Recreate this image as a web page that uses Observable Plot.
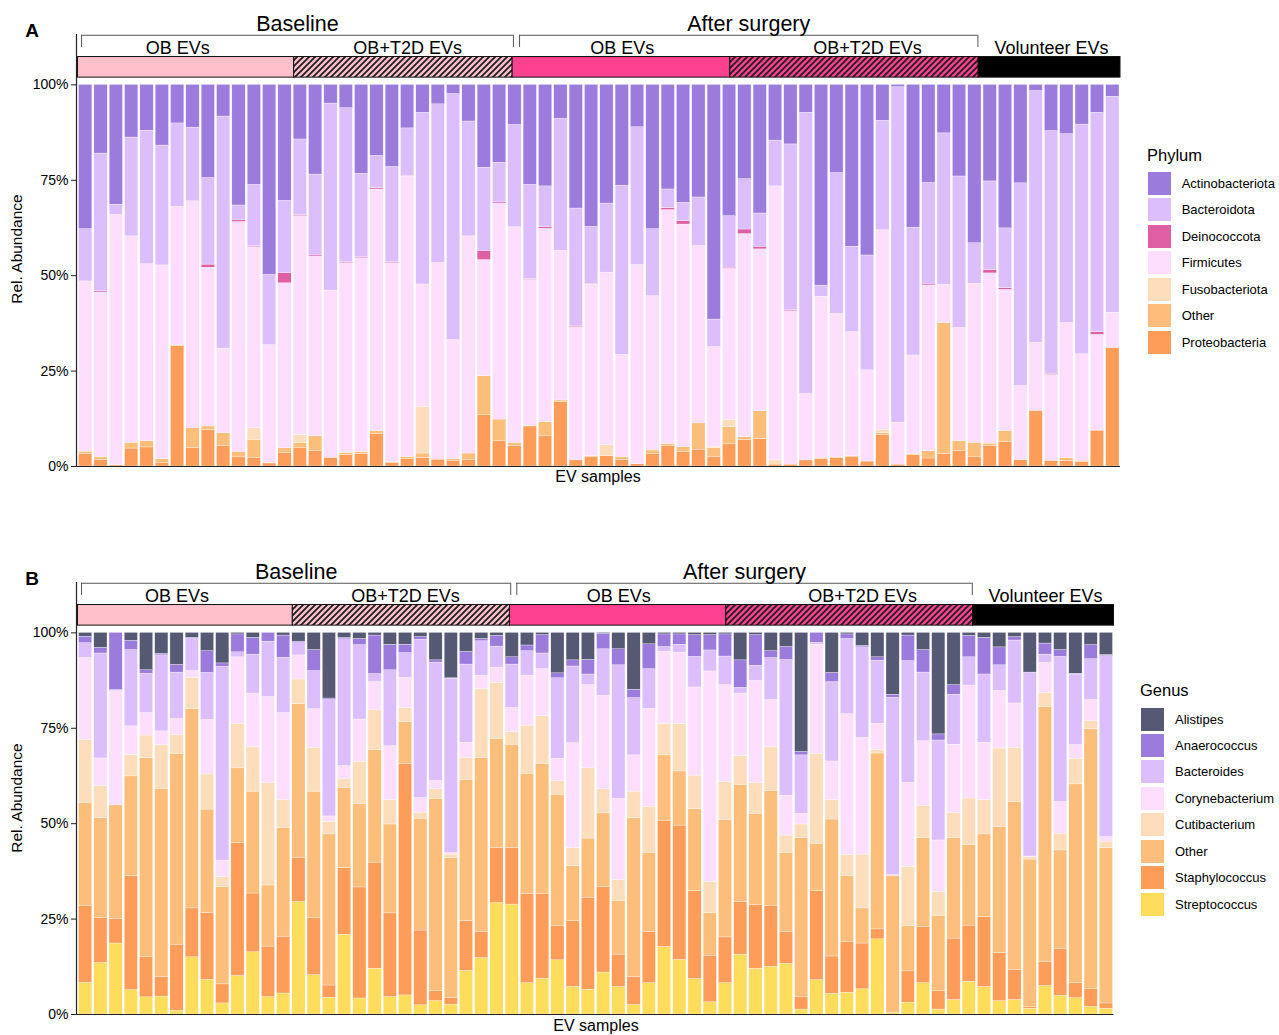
<!DOCTYPE html>
<html><head><meta charset="utf-8">
<script src="https://cdn.jsdelivr.net/npm/d3@7"></script>
<script src="https://cdn.jsdelivr.net/npm/@observablehq/plot@0.6"></script>
<style>
body{margin:0;background:#fff;font-family:"Liberation Sans",Arial,sans-serif;color:#000;}
#root{position:relative;width:1279px;height:1035px;overflow:hidden;}
.abs{position:absolute;white-space:nowrap;line-height:1;}
.c{transform:translate(-50%,-50%);}
.sw{position:absolute;width:23px;height:23px;}
</style></head><body><div id="root"></div>
<script>
// ---------- DATA ----------
const nSamples = 68;

// Panel A: phylum relative abundance (%), one value per EV sample
const proteobacteria = [3.3,1.7,0.3,4.7,5.0,1.0,31.5,4.8,9.6,5.3, 2.4,2.3,0.8,3.5,4.8,4.0,2.3,3.0,3.3,8.5, 0.9,1.9,2.2,1.8,1.4,1.7,13.5,6.6,5.4,10.5, 7.9,16.9,1.6,2.4,2.7,1.7,0.6,3.2,5.3,3.8, 4.4,2.4,5.8,7.0,7.2,0.5,0.5,1.6,1.9,2.2, 2.4,1.3,8.3,0.5,3.0,2.1,3.2,4.0,2.4,5.3, 6.4,1.7,14.6,1.5,1.4,1.2,9.4,31.1];
const otherPhylum = [0.6,0.7,0,1.5,1.6,0.9,0.2,5.3,0.9,3.4, 1.4,4.7,0.2,1.3,1.3,3.9,0,0.5,0.5,0.8, 0.2,0.6,1.2,0,0.5,1.7,10.2,5.7,0.8,0.2, 3.7,0.4,0,0.3,0,0.7,0,1.0,0.6,1.3, 6.9,2.4,4.5,0.7,7.3,0,0,0,0.2,0.2, 0.3,0,0.4,0,0.3,1.9,34.4,2.6,3.8,0.7, 2.9,0,0,0,0.8,0.3,0,0];
const fusobacteriota = [0,0,0,0,0,0,0,0,0,0, 0,3.0,0,0,2.2,0,0,0.3,0,0, 0,0,12.2,0,0,0,0,0,0,0, 0,0,0,0,2.9,0,0,0,0,0, 0,0.4,1.9,0,0,1.1,0,0,0,0, 0,0,0.9,0,0,0,0,0,0,0, 0,0,0,0,0,0,0,0];
const firmicutes = [44.6,43.2,65.6,54.1,46.4,50.8,36.3,59.4,41.6,22.2, 60.3,47.5,30.8,43.2,57.3,47.1,43.8,49.5,50.8,63.3, 52.2,73.5,32.1,51.5,31.2,56.9,30.4,56.6,56.5,38.2, 50.7,39.2,34.9,45.0,45.2,26.9,52.2,40.4,61.3,58.3, 46.5,26.1,39.6,53.2,42.4,71.8,40.2,17.4,42.4,37.6, 32.5,23.9,52.3,11.0,25.8,43.4,10.0,29.7,41.7,44.6, 37.0,19.4,17.8,22.5,35.4,27.9,25.1,9.2];
const deinococcota = [0,0.3,0,0,0,0,0,0,0.8,0, 0.5,0.2,0,2.7,0.2,0.3,0,0.2,0.2,0.4, 0.2,0.2,0,0,0,0,2.4,0.3,0,0.2, 0.4,0,0.2,0.2,0,0,0,0,0.5,0.9, 0,0,0.3,1.2,0.7,0,0.3,0,0,0, 0,0,0,0,0,0.3,0,0,0,0.9, 0.4,0,0,0.3,0,0,0.7,0];
const bacteroidota = [13.7,36.1,2.7,25.9,35.0,31.4,21.9,19.3,22.7,60.8, 3.8,16.1,18.4,18.9,19.9,21.2,49.0,40.4,21.9,8.4, 25.0,12.4,45.0,41.6,64.5,30.1,21.8,10.4,26.8,24.7, 10.7,34.6,30.9,14.9,18.1,44.3,36.1,17.6,4.9,4.8, 12.7,7.2,13.5,13.2,8.7,12.0,43.4,73.7,2.9,36.9, 22.4,30.1,28.7,87.9,33.5,26.6,39.7,39.7,10.6,23.2, 15.7,53.1,66.0,63.6,49.5,60.2,57.5,56.6];
const actinobacteriota = [37.8,18.0,31.4,13.8,12.0,15.9,10.1,11.2,24.4,8.3, 31.6,26.2,49.8,30.4,14.3,23.5,4.9,6.1,23.3,18.6, 21.5,11.4,7.3,5.1,2.4,9.6,21.7,20.4,10.5,26.2, 26.6,8.9,32.4,37.2,31.1,26.4,11.1,37.8,27.4,30.9, 29.5,61.5,34.4,24.7,33.7,14.6,15.6,7.3,52.6,23.1, 42.4,44.7,9.4,0.6,37.4,25.7,12.7,24.0,41.5,25.3, 37.6,25.8,1.6,12.1,12.9,10.4,7.3,3.1];

// Panel B: genus relative abundance (%)
const streptococcus = [8.3,13.5,18.6,6.4,4.5,4.7,1.0,15.0,9.1,2.9, 10.1,16.3,4.6,5.5,29.5,10.3,4.4,20.9,4.2,12.0, 4.6,5.0,2.4,3.5,2.6,11.4,14.8,29.2,28.8,8.2, 9.4,14.2,7.2,6.5,11.0,7.2,2.5,8.2,17.7,14.3, 9.3,3.2,8.2,15.7,12.0,12.5,13.3,1.3,9.0,5.4, 5.7,6.6,19.7,0.4,3.1,8.2,1.3,3.8,8.6,7.2, 3.5,3.8,1.5,7.5,4.9,4.3,2.0,1.5];
const staphylococcus = [20.2,11.8,6.5,29.9,10.6,5.2,17.3,12.8,17.5,5.0, 34.9,15.4,13.2,14.9,11.5,14.9,3.2,17.5,29.1,27.8, 21.9,60.6,19.6,2.6,1.8,13.1,6.9,14.5,14.9,23.3, 22.1,8.9,17.3,24.1,22.4,8.5,7.4,13.5,33.1,35.2, 23.0,12.2,12.0,13.8,16.7,16.0,8.4,3.2,23.4,9.8, 13.2,12.0,2.6,0,8.2,14.8,4.8,16.1,14.7,18.4, 12.6,7.8,0.5,6.3,12.3,4.0,4.6,1.4];
const otherGenus = [27.0,26.2,29.7,26.1,52.1,49.2,49.9,52.2,27.1,25.5, 19.5,26.7,16.0,28.5,40.3,33.2,39.6,21.0,21.9,29.5, 23.3,11.1,29.3,50.4,36.6,37.0,45.5,28.5,27.0,31.6, 34.1,34.5,14.4,15.5,19.3,14.1,41.5,20.7,17.1,14.2, 21.5,11.2,30.8,30.7,23.9,30.1,20.7,41.7,12.3,35.9, 17.4,9.2,46.1,35.8,11.8,23.3,19.8,26.4,21.1,21.6, 33.0,44.1,38.6,66.8,25.8,52.0,68.2,40.7];
const cutibacterium = [16.5,8.4,0,5.6,5.9,11.5,5.0,8.2,9.2,2.6, 11.7,11.6,26.8,7.4,6.5,11.5,3.3,2.4,11.0,10.4, 6.4,3.6,1.6,2.5,0.9,5.8,18.1,14.7,3.4,12.6, 12.6,3.5,4.7,18.4,6.3,5.4,7.0,12.0,8.3,12.4, 8.8,8.2,9.9,7.5,8.1,11.4,4.5,3.6,23.6,5.1, 5.5,14.1,0.9,0.3,15.6,8.4,6.2,6.5,12.2,9.0, 20.6,14.2,0.6,3.6,4.4,6.7,2.1,1.7];
const corynebacterium = [21.4,7.2,29.9,7.5,5.9,3.6,4.2,1.8,14.3,4.3, 17.4,14.1,22.6,22.7,6.3,10.1,1.4,3.3,11.1,7.4, 14.1,7.9,3.8,2.2,0.4,3.9,3.5,4.0,6.2,13.1, 12.3,5.9,27.5,21.8,24.5,21.3,9.5,25.7,18.9,18.7, 23.1,55.1,25.4,16.4,26.7,12.4,10.4,2.8,28.6,10.1, 36.9,30.6,6.9,0,22.0,16.9,13.5,17.9,29.6,15.0, 15.1,11.6,0.2,7.9,8.3,3.6,5.5,1.2];
const bacteroides = [3.9,27.5,0.3,20.0,10.3,19.9,12.2,8.4,12.3,50.8, 1.3,10.2,14.5,14.5,3.2,10.0,30.5,33.2,19.5,2.1, 19.9,6.5,41.5,31.0,45.7,20.5,9.0,5.5,11.4,6.4, 4.1,21.1,20.1,2.8,12.2,35.0,15.0,10.4,1.2,2.1, 8.0,5.5,7.5,1.5,4.0,11.0,35.6,15.3,0.5,20.8, 19.7,23.7,16.5,46.5,31.9,18.0,26.2,13.1,7.4,17.9, 6.7,16.5,48.2,2.2,38.0,18.5,10.7,47.4];
const anaerococcus = [1.7,1.5,15.0,2.4,0.9,0.4,2.0,0.3,5.7,0.9, 4.7,4.4,2.3,5.8,0.4,5.5,0.4,0.4,1.6,10.1, 6.7,2.2,0.7,0.6,0.1,3.3,0.6,2.8,1.9,1.5, 4.8,1.3,1.6,3.8,4.1,4.2,2.2,6.5,3.3,2.7, 5.7,4.0,5.8,7.2,8.0,1.8,3.4,0.9,2.6,2.4, 1.2,0.4,0.9,0.8,6.7,5.9,1.6,2.5,5.6,9.6, 4.7,0.9,0,2.9,1.8,0.2,3.7,0.3];
const alistipes = [1.0,3.9,0,2.1,9.8,5.5,8.4,1.3,4.8,8.0, 0.4,1.3,0,0.7,2.3,4.5,17.2,1.3,1.6,0.7, 3.1,3.1,1.1,7.2,11.9,5.0,1.6,0.8,6.4,3.3, 0.6,10.6,7.2,7.1,0.2,4.3,14.9,3.0,0.4,0.4, 0.6,0.6,0.4,7.2,0.6,4.8,3.7,31.2,0,10.5, 0.4,3.4,6.4,16.2,0.7,4.5,26.6,13.7,0.8,1.3, 3.8,1.1,10.4,2.8,4.5,10.7,3.2,5.8];

// stacking order (bottom -> top) and colours
const phylumNames = ["Proteobacteria","Other","Fusobacteriota","Firmicutes","Deinococcota","Bacteroidota","Actinobacteriota"];
const phylumColors = ["#FE9C5A","#FDBD7B","#FDDDBB","#FDDEFD","#DE5FA4","#DCBEFC","#9B7BDC"];
const phylumSeries = [proteobacteria, otherPhylum, fusobacteriota, firmicutes, deinococcota, bacteroidota, actinobacteriota];

const genusNames = ["Streptococcus","Staphylococcus","Other","Cutibacterium","Corynebacterium","Bacteroides","Anaerococcus","Alistipes"];
const genusColors = ["#FEDC5C","#FE9C5A","#FDBD7B","#FDDDBB","#FDDEFD","#DCBEFC","#9B7BDC","#565974"];
const genusSeries = [streptococcus, staphylococcus, otherGenus, cutibacterium, corynebacterium, bacteroides, anaerococcus, alistipes];

// sample-group annotation (boundaries in sample units, as drawn)
const groupLabels = ["OB EVs","OB+T2D EVs","OB EVs","OB+T2D EVs","Volunteer EVs"];
const groupBreaks = [0, 14.1, 28.35, 42.55, 58.75, 68];
const groupLabelX = [6.5, 21.5, 35.5, 51.5, 63.5];
const groupBase = ["#FFC0CB","#FFC0CB","#FF4190","#FF4190","#000000"];
const groupHatched = [false, true, false, true, false];
const periodLabels = ["Baseline","After surgery"];
const periodStart = [0.23, 28.8];
const periodEnd = [28.4, 58.7];

const yTicks = [0, 0.25, 0.5, 0.75, 1];

// ---------- DRAW ----------
const root = document.getElementById("root");
const FONT = '"Liberation Sans", Arial, sans-serif';

function makePanel(series, names, colors, marginRight, pid) {
  const rows = [];
  for (let i = 0; i < nSamples; i++) {
    let acc = 0;
    series.forEach((arr, k) => {
      const v = arr[i] / 100;
      rows.push({sample: i, taxon: names[k], x1: i, x2: i + 1, y1: acc, y2: acc + v});
      acc += v;
    });
  }
  const groups = groupLabels.map((label, k) => ({
    label, start: groupBreaks[k], end: groupBreaks[k + 1], lx: groupLabelX[k],
    fill: groupHatched[k] ? `url(#${pid}h${k})` : groupBase[k]
  }));
  const periods = periodLabels.map((label, k) => ({label, start: periodStart[k], end: periodEnd[k]}));
  const periodEnds = periods.flatMap(p => [p.start, p.end]);

  const svg = Plot.plot({
    width: 1279, height: 500,
    marginLeft: 76, marginRight, marginTop: 34, marginBottom: 34,
    x: {domain: [-0.1, 68], axis: null},
    y: {domain: [0, 1.132], axis: null, label: null},
    color: {domain: names, range: colors},
    style: {fontFamily: FONT, fontSize: "14px", color: "#000", background: "transparent", overflow: "visible"},
    marks: [
      Plot.rect(rows, {x1: "x1", x2: "x2", y1: "y1", y2: "y2", fill: "taxon",
        insetLeft: 1, insetRight: 1, stroke: "white", strokeWidth: 0.4, strokeOpacity: 0.8}),
      ...groups.map(g => Plot.rect([g], {x1: "start", x2: "end", y1: 1.019, y2: 1.073,
        fill: g.fill, stroke: "#111", strokeWidth: 1})),
      Plot.ruleY(periods, {y: 1.13, x1: "start", x2: "end", stroke: "#555", strokeWidth: 1}),
      Plot.ruleX(periodEnds, {x: d => d, y1: 1.098, y2: 1.13, stroke: "#555", strokeWidth: 1}),
      Plot.text(periods, {x: d => (d.start + d.end) / 2, y: 1.16, text: "label", fontSize: 21.5, fill: "#000"}),
      Plot.text(groups, {x: "lx", y: 1.097, text: "label", fontSize: 18, fill: "#000"}),
      Plot.ruleX([-0.1], {y1: 0, y2: 1.132, stroke: "#222", strokeWidth: 1.2}),
      Plot.ruleY([0], {x1: -0.1, x2: 68, stroke: "#222", strokeWidth: 1.2}),
      Plot.axisY({ticks: yTicks, tickFormat: d => `${Math.round(d * 100)}%`, tickSize: 5,
        tickPadding: 3, fontSize: 14, label: null, anchor: "left", stroke: "#222"})
    ]
  });
  // hatch patterns
  const defs = d3.select(svg).insert("defs", ":first-child");
  groupHatched.forEach((h, k) => {
    if (!h) return;
    const p = defs.append("pattern").attr("id", `${pid}h${k}`)
      .attr("patternUnits", "userSpaceOnUse").attr("width", 6).attr("height", 6);
    p.append("rect").attr("width", 6).attr("height", 6).attr("fill", groupBase[k]);
    p.append("path").attr("d", "M-1,1 l2,-2 M0,6 l6,-6 M5,7 l2,-2")
      .attr("stroke", "#1e1e1e").attr("stroke-width", 1.8).attr("fill", "none");
  });
  return svg;
}

function place(el, top) {
  el.style.position = "absolute";
  el.style.left = "0px";
  el.style.top = top + "px";
  root.appendChild(el);
}
function label(text, x, y, size, extra = "") {
  const d = document.createElement("div");
  d.className = "abs c";
  d.style.cssText += `left:${x}px;top:${y}px;font-size:${size}px;${extra}`;
  d.textContent = text;
  root.appendChild(d);
  return d;
}
function legend(title, names, colors, x, titleY, firstTop, pitch, textX) {
  const t = document.createElement("div");
  t.className = "abs";
  t.style.cssText += `left:${x}px;top:${titleY - 8}px;font-size:16.5px;`;
  t.textContent = title;
  root.appendChild(t);
  const order = names.map((n, i) => i).reverse();
  order.forEach((idx, r) => {
    const top = firstTop + r * pitch;
    const s = document.createElement("div");
    s.className = "sw";
    s.style.cssText += `left:${x + 1}px;top:${top}px;background:${colors[idx]};`;
    root.appendChild(s);
    const l = document.createElement("div");
    l.className = "abs";
    l.style.cssText += `left:${textX}px;top:${top + 11.5 - 6.5}px;font-size:13px;`;
    l.textContent = names[idx];
    root.appendChild(l);
  });
}

place(makePanel(phylumSeries, phylumNames, phylumColors, 159, "pa"), 0);
place(makePanel(genusSeries, genusNames, genusColors, 165.5, "pb"), 548);

label("A", 32, 30, 19, "font-weight:bold;");
label("B", 32, 578, 19, "font-weight:bold;");
label("Rel. Abundance", 17, 249, 15.5, "transform:translate(-50%,-50%) rotate(-90deg);");
label("Rel. Abundance", 17, 798, 15.5, "transform:translate(-50%,-50%) rotate(-90deg);");
label("EV samples", 598, 477, 16);
label("EV samples", 596, 1026, 16);

legend("Phylum", phylumNames, phylumColors, 1147, 155, 171.7, 26.5, 1181.7);
legend("Genus", genusNames, genusColors, 1140, 690, 707.5, 26.43, 1175);
</script></body></html>
